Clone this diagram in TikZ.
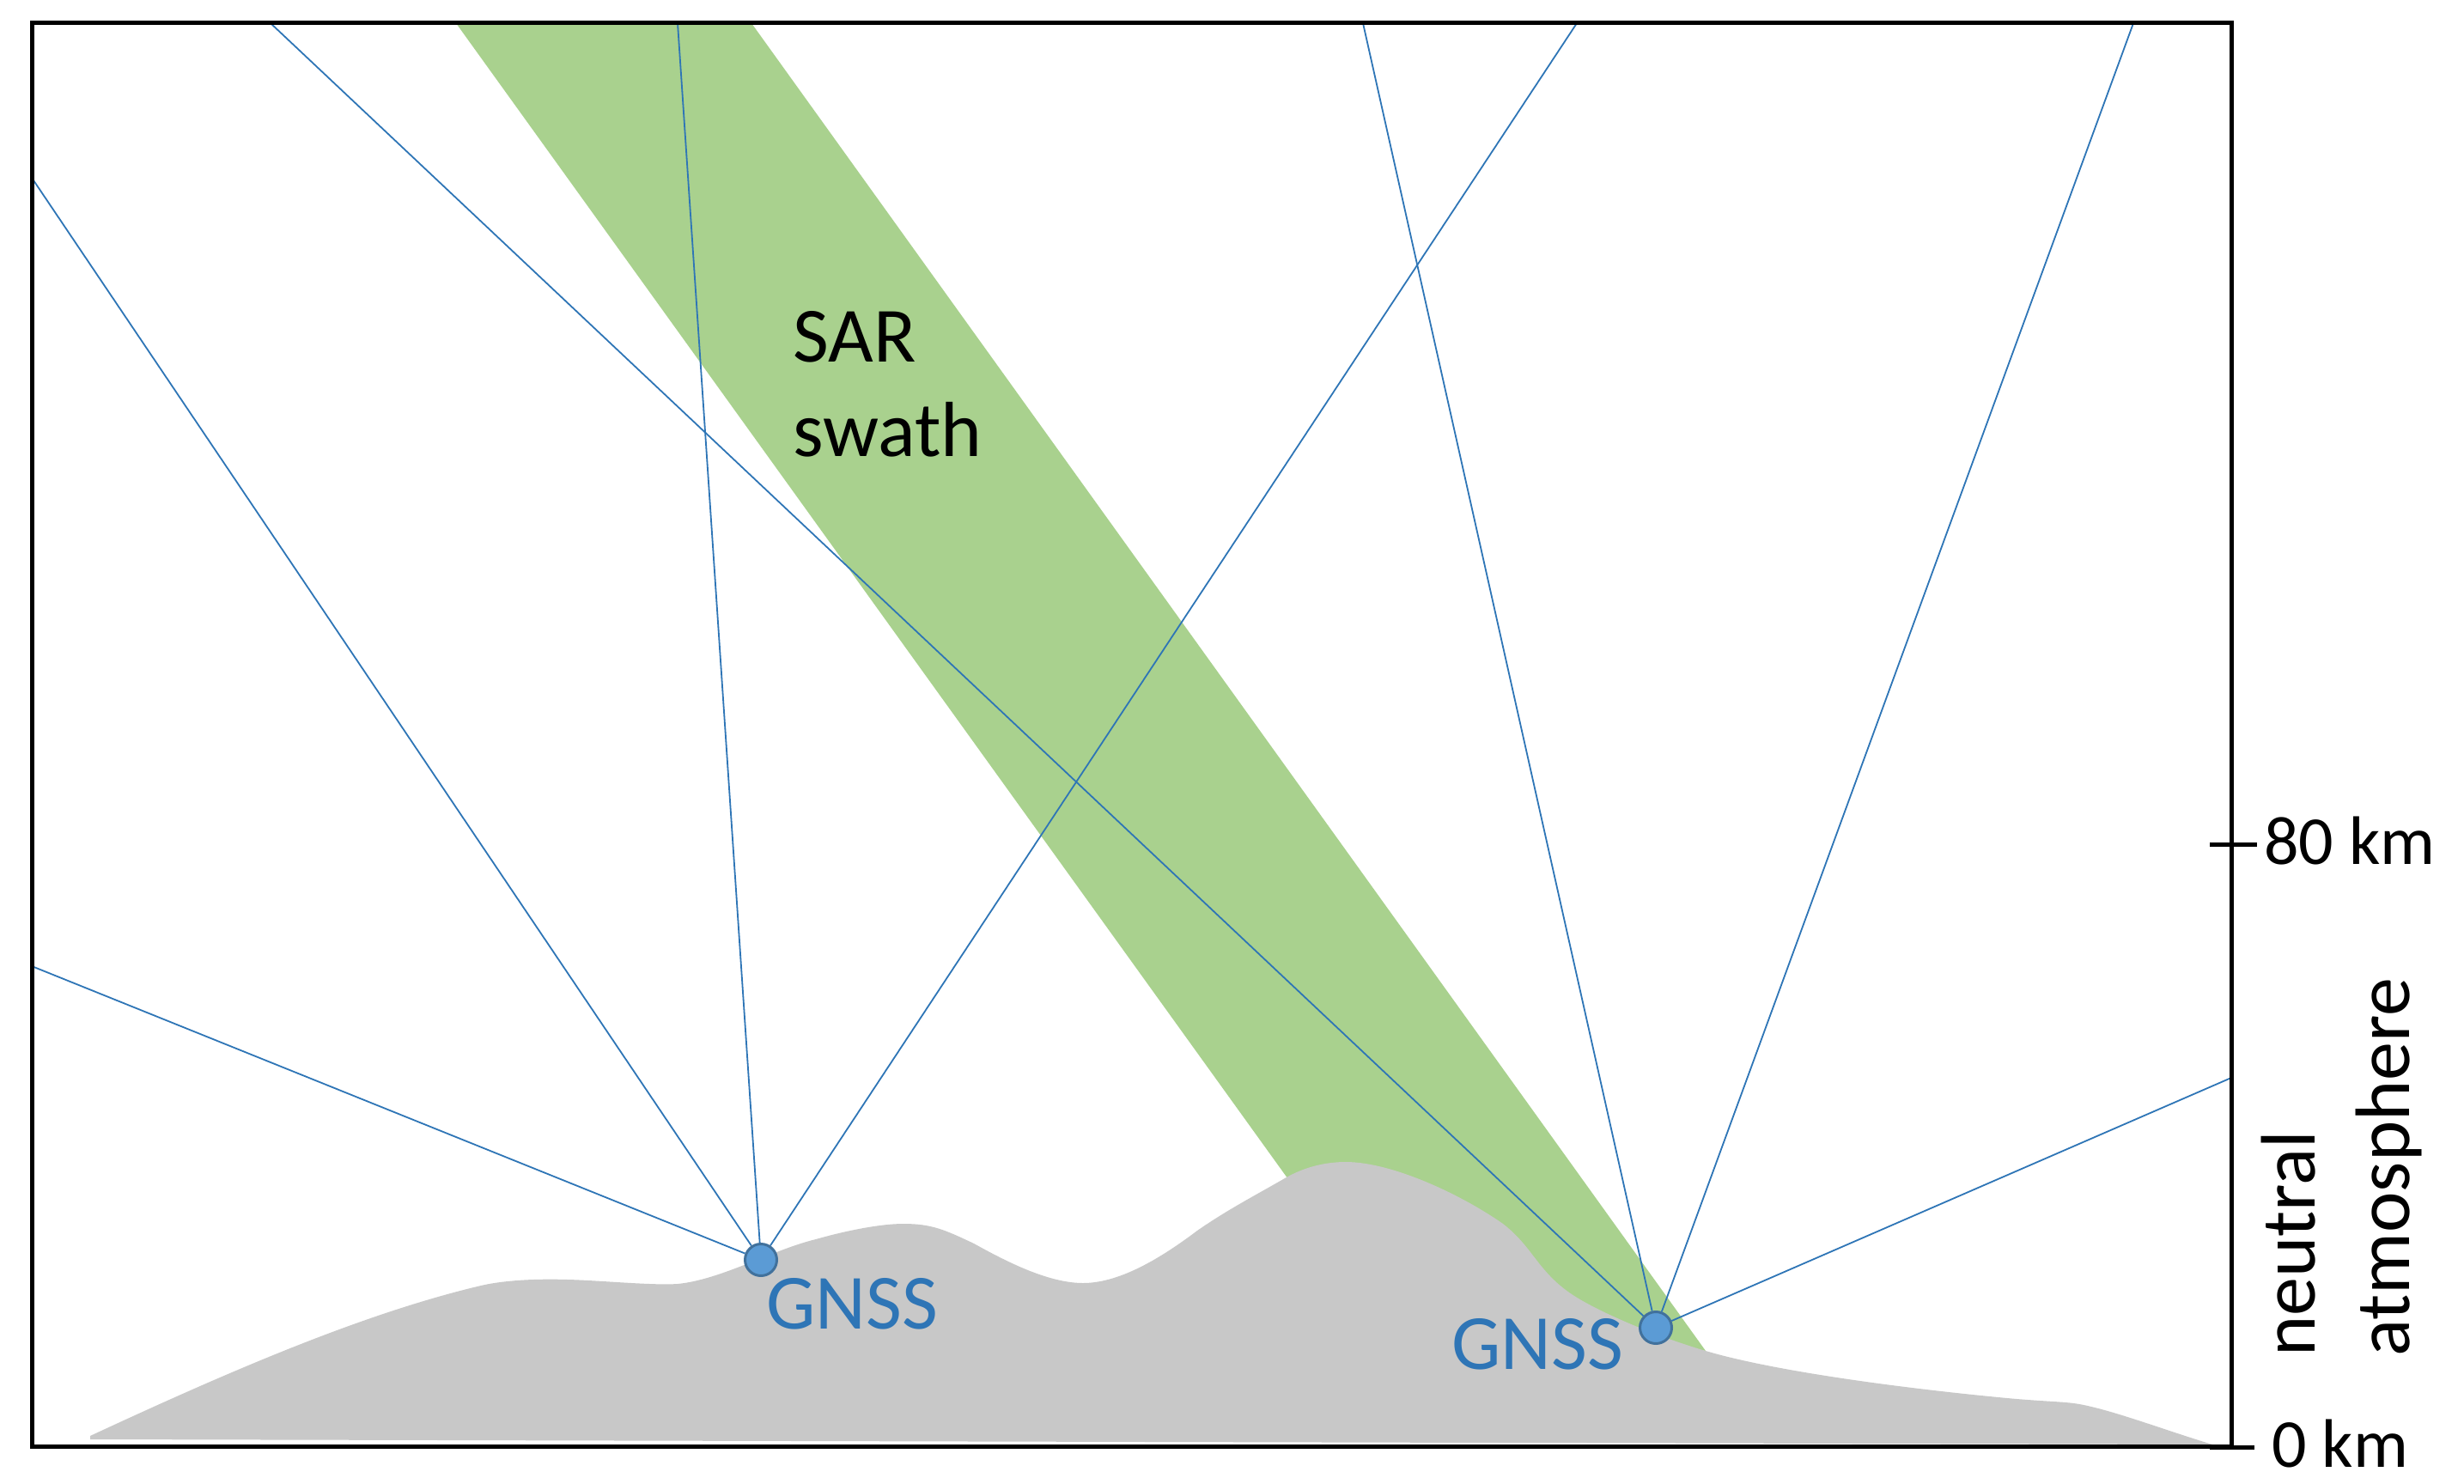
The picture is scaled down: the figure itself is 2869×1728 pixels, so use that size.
\documentclass[tikz,border=0pt]{standalone}
\usepackage{fontspec}
\setmainfont{Carlito}
\definecolor{swathgreen}{HTML}{A9D18E}
\definecolor{ground}{HTML}{C8C8C8}
\definecolor{raycol}{HTML}{2E75B6}
\definecolor{stfill}{HTML}{5B9BD5}
\definecolor{stedge}{HTML}{41719C}
\tikzset{
  ray/.style={draw=raycol,line width=1.8pt},
  station/.style={circle,fill=stfill,draw=stedge,line width=3pt,minimum size=37pt,inner sep=0pt},
  gnsslabel/.style={text=raycol,font=\fontsize{91}{100}\selectfont,inner sep=0pt,anchor=center},
  axislabel/.style={text=black,font=\fontsize{80}{90}\selectfont,inner sep=0pt,anchor=west},
  vertlabel/.style={text=black,font=\fontsize{90}{100}\selectfont,inner sep=0pt,anchor=base west,rotate=90},
  axisline/.style={draw=black,line width=5pt},
}
\begin{document}
\begin{tikzpicture}[x=1pt,y=-1pt]
\useasboundingbox (0,0) rectangle (2869,1728);
% swath
\fill[swathgreen] (531,27) -- (875,27) -- (1986,1573) -- (1600,1512) -- (1497,1369) -- cycle;
% terrain
\fill[ground] (105,1672)
  .. controls (260,1600) and (420,1530) .. (560,1497)
  .. controls (590,1490) and (630,1489) .. (661,1490)
  .. controls (700,1491) and (760,1497) .. (789,1495)
  .. controls (840,1490) and (900,1455) .. (950,1443)
  .. controls (985,1433) and (1025,1425) .. (1052,1425)
  .. controls (1085,1425) and (1100,1432) .. (1134,1448)
  .. controls (1170,1468) and (1220,1494) .. (1261,1494)
  .. controls (1300,1494) and (1345,1470) .. (1394,1433)
  .. controls (1430,1408) and (1465,1390) .. (1496,1372)
  .. controls (1520,1358) and (1545,1353) .. (1567,1353)
  .. controls (1620,1353) and (1700,1390) .. (1750,1425)
  .. controls (1785,1452) and (1790,1480) .. (1830,1507)
  .. controls (1860,1527) and (1925,1555) .. (1986,1573)
  .. controls (2060,1595) and (2200,1615) .. (2337,1628)
  .. controls (2380,1632) and (2405,1632) .. (2421,1635)
  .. controls (2460,1642) and (2520,1665) .. (2576,1682)
  -- (105,1676) -- cycle;
% named ends
\coordinate (la) at (37,1125);
\coordinate (lb) at (37,207);
\coordinate (lc) at (789,27);
\coordinate (ld) at (1836,27);
\coordinate (ra) at (315,27);
\coordinate (rb) at (1587,27);
\coordinate (rc) at (2484,27);
\coordinate (rd) at (2598,1255);
\node[station] (g1) at (886,1467) {};
\node[station] (g2) at (1928,1546) {};
\foreach \e in {la,lb,lc,ld} \draw[ray] (g1) -- (\e);
\foreach \e in {ra,rb,rc,rd} \draw[ray] (g2) -- (\e);
% frame
\coordinate (ftl) at (37,27);
\coordinate (fbr) at (2598,1684);
\draw[axisline] (ftl) rectangle (fbr);
\coordinate (t80a) at (2573,983);
\coordinate (t80b) at (2628,983);
\coordinate (t0a) at (2573,1685);
\coordinate (t0b) at (2625,1685);
\draw[axisline] (t80a) -- (t80b);
\draw[axisline] (t0a) -- (t0b);
% labels
\node[gnsslabel] (l1) at (992,1518) {GNSS};
\node[gnsslabel] (l2) at (1790,1565) {GNSS};
\node[inner sep=0pt,anchor=base west] (s1) at (923,421) {\fontsize{91}{100}\selectfont SAR};
\node[inner sep=0pt,anchor=base west] (s2) at (923,531) {\fontsize{91}{100}\selectfont swath};
\node[axislabel] (k80) at (2636,979) {80 km};
\node[axislabel] (k0) at (2645,1681) {0 km};
\node[vertlabel] (n1) at (2695,1580) {neutral};
\node[vertlabel] (n2) at (2805,1580) {atmosphere};
\end{tikzpicture}
\end{document}
